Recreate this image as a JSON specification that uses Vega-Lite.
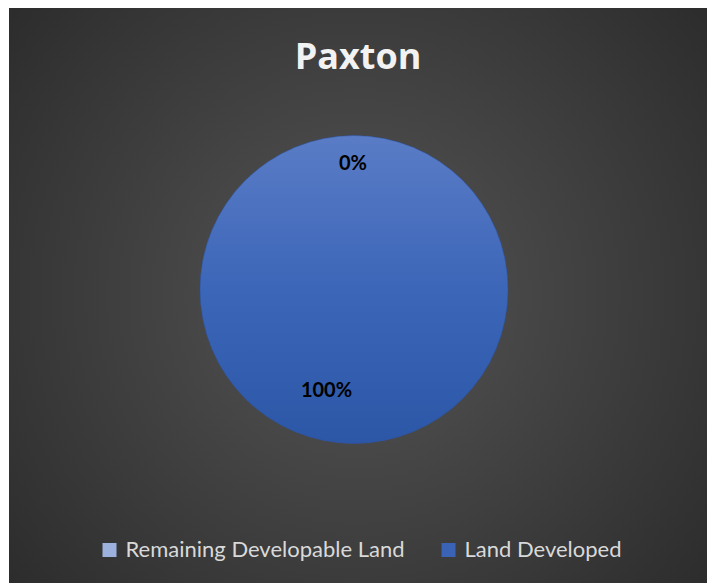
{
  "$schema": "https://vega.github.io/schema/vega-lite/v6.json",
  "autosize": "none",
  "padding": {"left": 9, "top": 8, "right": 7, "bottom": 0},
  "width": 698,
  "height": 575,
  "background": "white",
  "title": {
    "text": "Paxton",
    "orient": "top",
    "anchor": "middle",
    "offset": -61,
    "dy": 36,
    "baseline": "alphabetic",
    "font": "Open Sans",
    "fontSize": 36,
    "fontWeight": "bold",
    "color": "#f2f2f2"
  },
  "data": {
    "values": [
      {"category": "Remaining Developable Land", "value": 0, "label": "0%"},
      {"category": "Land Developed", "value": 100, "label": "100%"}
    ]
  },
  "layer": [
    {
      "mark": {
        "type": "rect",
        "fill": {
          "gradient": "radial",
          "x1": 0.5, "y1": 0.5, "r1": 0,
          "x2": 0.5, "y2": 0.5, "r2": 0.75,
          "stops": [
            {"offset": 0, "color": "#555555"},
            {"offset": 1, "color": "#262626"}
          ]
        }
      },
      "encoding": {}
    },
    {
      "mark": {"type": "arc", "radius": 154, "xOffset": -4, "yOffset": -6},
      "encoding": {
        "theta": {"field": "value", "type": "quantitative", "stack": true},
        "order": {"field": "value", "type": "quantitative"},
        "color": {
          "field": "category",
          "type": "nominal",
          "scale": {
            "domain": ["Remaining Developable Land", "Land Developed"],
            "range": ["#9cb1de", "#3a63b5"]
          },
          "legend": {
            "orient": "none",
            "legendX": 89.5,
            "legendY": 531,
            "direction": "horizontal",
            "title": null,
            "symbolType": "square",
            "symbolSize": 196,
            "symbolStrokeWidth": 0,
            "labelFont": "Lato",
            "labelFontSize": 22,
            "labelColor": "#d9d9d9",
            "labelLimit": 500,
            "columnPadding": 32,
            "labelOffset": 5,
            "padding": 0
          }
        }
      }
    },
    {
      "mark": {
        "type": "arc",
        "radius": 154,
        "xOffset": -4,
        "yOffset": -6,
        "fill": {
          "gradient": "linear",
          "x1": 0, "y1": 0, "x2": 0, "y2": 1,
          "stops": [
            {"offset": 0, "color": "#5a7cc6"},
            {"offset": 0.5, "color": "#3c66b8"},
            {"offset": 1, "color": "#2c56a6"}
          ]
        },
        "stroke": "#2d4f94",
        "strokeWidth": 0.75,
        "strokeOpacity": 0.6
      },
      "encoding": {
        "theta": {"field": "value", "type": "quantitative", "stack": true},
        "order": {"field": "value", "type": "quantitative"}
      }
    },
    {
      "mark": {
        "type": "text",
        "radius": 125.5,
        "xOffset": -4,
        "yOffset": -6,
        "dx": -1,
        "font": "Lato",
        "fontSize": 20,
        "fontWeight": "bold",
        "color": "#000000"
      },
      "encoding": {
        "theta": {"field": "value", "type": "quantitative", "stack": true},
        "order": {"field": "value", "type": "quantitative"},
        "text": {
          "condition": {"test": "datum.category === 'Remaining Developable Land'", "field": "label"},
          "value": ""
        }
      }
    },
    {
      "mark": {
        "type": "text",
        "radius": 101.5,
        "xOffset": -4,
        "yOffset": -6,
        "dx": -27.5,
        "font": "Lato",
        "fontSize": 20,
        "fontWeight": "bold",
        "color": "#000000"
      },
      "encoding": {
        "theta": {"field": "value", "type": "quantitative", "stack": true},
        "order": {"field": "value", "type": "quantitative"},
        "text": {
          "condition": {"test": "datum.category === 'Land Developed'", "field": "label"},
          "value": ""
        }
      }
    }
  ],
  "config": {
    "view": {"stroke": null}
  }
}
